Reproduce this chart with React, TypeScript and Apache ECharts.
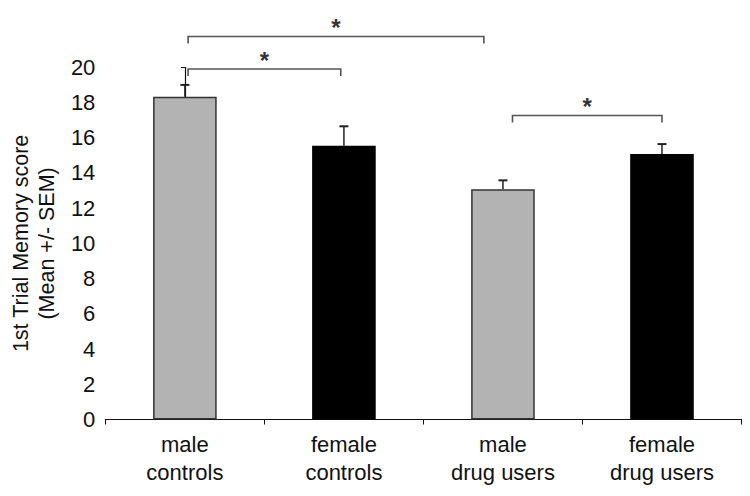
import React, { useEffect, useRef } from "react";
import * as echarts from "echarts";

const categories = ["male\ncontrols", "female\ncontrols", "male\ndrug users", "female\ndrug users"];
const means = [18.33, 15.55, 13.08, 15.07];
const sems = [0.67, 1.1, 0.5, 0.57];
const barColors = ["#b3b3b3", "#000000", "#b3b3b3", "#000000"];
const yName = "1st Trial Memory score\n(Mean +/- SEM)";
// brackets: [from (category position), to (category position), height (score units)]
const brackets = [
  [0.02, 1.88, 21.75],
  [0.02, 0.98, 19.9],
  [2.06, 3.0, 17.26],
];
const bracketLabels = ["*", "*", "*"];

const FONT = "Liberation Sans, Arial, Helvetica, sans-serif";

export default function App() {
  const ref = useRef<HTMLDivElement>(null);
  useEffect(() => {
    if (!ref.current) return;
    const chart = echarts.init(ref.current, null, { renderer: "svg" });
    chart.setOption({
      animation: false,
      backgroundColor: "#ffffff",
      grid: { left: 104.5, right: 8.5, top: 67.3, bottom: 76.5, containLabel: false },
      xAxis: [
        {
          type: "category",
          data: categories,
          axisLine: { show: true, lineStyle: { color: "#111", width: 1.2 } },
          axisTick: { show: true, inside: false, length: 5, lineStyle: { color: "#111" } },
          axisLabel: {
            color: "#111",
            fontFamily: FONT,
            fontSize: 22,
            lineHeight: 28,
            margin: 11,
          },
        },
        { type: "value", min: -0.5, max: 3.5, show: false },
      ],
      yAxis: {
        type: "value",
        min: 0,
        max: 20,
        interval: 2,
        name: yName,
        nameLocation: "middle",
        nameRotate: 90,
        nameGap: 44,
        nameTextStyle: { color: "#111", fontFamily: FONT, fontSize: 21.5, lineHeight: 26 },
        axisLine: { show: true, lineStyle: { color: "#111", width: 1.2 } },
        axisTick: { show: true, inside: false, length: 4, lineStyle: { color: "#111" } },
        axisLabel: { color: "#111", fontFamily: FONT, fontSize: 22, margin: 10 },
        splitLine: { show: false },
      },
      series: [
        {
          type: "bar",
          xAxisIndex: 0,
          barWidth: "40%",
          data: means.map((v, i) => ({
            value: v,
            itemStyle: {
              color: barColors[i],
              borderColor: i % 2 === 0 ? "#333" : "#000",
              borderWidth: i % 2 === 0 ? 1.5 : 0,
            },
          })),
        },
        {
          type: "custom",
          xAxisIndex: 0,
          encode: { x: 0, y: 1 },
          data: means.map((m, i) => [i, m, sems[i]]),
          renderItem: (params: any, api: any) => {
            const i = api.value(0);
            const m = api.value(1);
            const s = api.value(2);
            const base = api.coord([i, m]);
            const top = api.coord([i, m + s]);
            const hw = 4.5;
            return {
              type: "group",
              children: [
                {
                  type: "line",
                  shape: { x1: base[0], y1: base[1], x2: top[0], y2: top[1] },
                  style: { stroke: "#222", lineWidth: 1.5 },
                },
                {
                  type: "line",
                  shape: { x1: top[0] - hw, y1: top[1], x2: top[0] + hw, y2: top[1] },
                  style: { stroke: "#222", lineWidth: 2 },
                },
              ],
            };
          },
          z: 3,
        },
        {
          type: "custom",
          xAxisIndex: 1,
          encode: { x: [0, 1], y: 2 },
          data: brackets,
          clip: false,
          renderItem: (params: any, api: any) => {
            const x1 = api.value(0);
            const x2 = api.value(1);
            const y = api.value(2);
            const p1 = api.coord([x1, y]);
            const p2 = api.coord([x2, y]);
            const tick = 7;
            return {
              type: "group",
              children: [
                {
                  type: "polyline",
                  shape: {
                    points: [
                      [p1[0], p1[1] + tick],
                      [p1[0], p1[1]],
                      [p2[0], p2[1]],
                      [p2[0], p2[1] + tick],
                    ],
                  },
                  style: { stroke: "#555", lineWidth: 1.6, fill: null },
                },
                {
                  type: "text",
                  style: {
                    text: bracketLabels[params.dataIndex],
                    x: (p1[0] + p2[0]) / 2,
                    y: p1[1] - 9,
                    align: "center",
                    verticalAlign: "middle",
                    fontFamily: FONT,
                    fontSize: 24,
                    fontWeight: "bold",
                    fill: "#333",
                  },
                },
              ],
            };
          },
          z: 4,
        },
      ],
    });
    return () => chart.dispose();
  }, []);
  return (
    <div
      ref={ref}
      style={{ position: "absolute", left: 0, top: 0, width: 750, height: 496 }}
    />
  );
}
